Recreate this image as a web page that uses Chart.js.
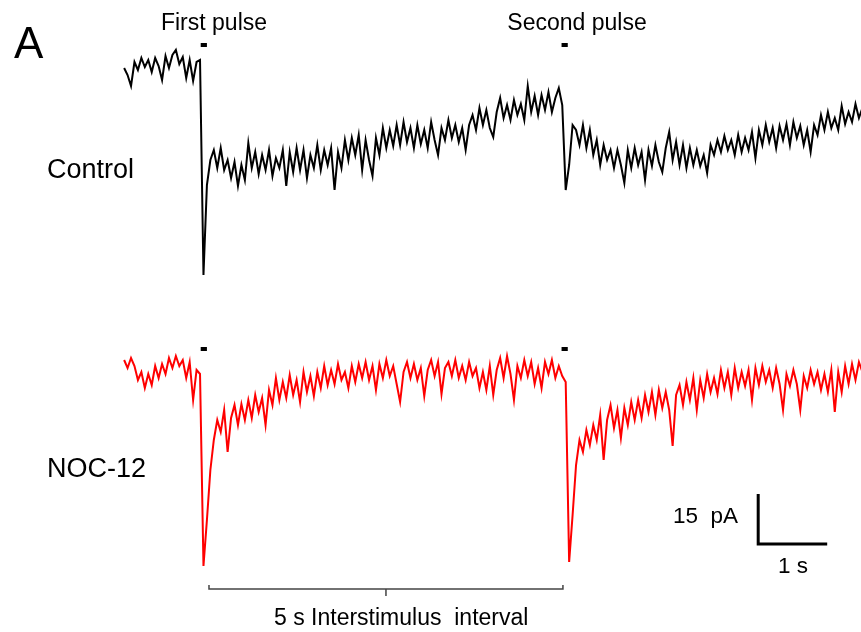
<!DOCTYPE html>
<html>
<head>
<meta charset="utf-8">
<script src="https://cdn.jsdelivr.net/npm/chart.js@4.4.1/dist/chart.umd.min.js"></script>
<style>
html, body { margin:0; padding:0; background:#fff; }
#wrap { width:861px; height:632px; position:relative; }
</style>
</head>
<body>
<div id="wrap"><canvas id="traces"></canvas></div>
<script>
// sampling of both recordings (s), first pulse onset at t = 0
var sampleStart = -1.10;
var sampleStep = 0.05;

// current relative to pre-pulse baseline (pA)
var controlTrace = [
	-0.9,-3.0,-6.3,0.9,-1.5,2.1,-0.6,1.5,-2.1,2.1,
	-0.3,-4.5,2.7,-0.9,3.0,4.5,0.3,2.4,-3.9,1.5,
	-4.8,0.9,1.5,-63.0,-36.0,-28.5,-25.5,-30.9,-24.9,-31.5,
	-28.5,-33.9,-29.1,-36.3,-30.0,-34.5,-23.4,-30.9,-26.1,-32.7,
	-27.0,-31.5,-25.5,-33.3,-27.9,-30.9,-25.5,-36.3,-26.1,-32.1,
	-24.9,-31.5,-25.5,-33.9,-27.0,-30.9,-24.0,-31.5,-25.5,-30.0,
	-24.9,-37.5,-26.1,-30.9,-22.5,-28.5,-21.9,-27.0,-21.0,-31.5,
	-22.5,-28.5,-33.3,-21.9,-27.0,-18.9,-24.9,-19.5,-24.3,-18.0,
	-24.0,-17.1,-23.1,-18.9,-24.9,-18.0,-23.7,-19.5,-24.9,-17.1,
	-22.5,-27.0,-18.9,-22.5,-16.5,-21.9,-18.0,-23.1,-18.9,-25.5,
	-18.0,-15.0,-19.5,-12.9,-18.0,-13.5,-18.9,-21.6,-14.1,-9.9,
	-15.9,-12.0,-16.5,-10.5,-15.0,-11.7,-16.5,-6.3,-14.1,-9.3,
	-15.0,-9.0,-13.5,-8.1,-14.1,-9.9,-6.9,-12.0,-37.5,-30.0,
	-18.0,-19.5,-24.0,-18.0,-24.9,-19.5,-27.0,-22.5,-30.0,-24.0,
	-28.5,-25.5,-30.9,-25.5,-30.0,-35.4,-25.5,-30.9,-24.9,-30.0,
	-26.1,-34.5,-25.5,-30.3,-24.0,-29.1,-32.1,-24.9,-20.1,-28.5,
	-23.1,-30.0,-24.0,-30.9,-24.9,-30.0,-25.5,-30.3,-27.0,-32.4,
	-24.0,-27.0,-22.5,-26.1,-21.3,-25.5,-22.5,-27.0,-21.0,-26.1,
	-21.9,-25.5,-20.1,-27.9,-19.5,-24.0,-18.0,-23.1,-18.9,-24.9,
	-18.3,-22.5,-17.7,-24.0,-17.1,-21.9,-18.3,-24.0,-19.5,-26.1,
	-18.0,-21.0,-15.0,-19.5,-14.1,-18.9,-15.9,-19.5,-12.3,-17.7,
	-14.1,-17.1,-11.7,-15.9,-12.9
];

var nocTrace = [
	2.4,0.0,3.0,0.6,-3.6,-1.2,-6.0,-1.8,-5.1,0.6,
	-3.0,1.2,-1.8,3.0,0.0,3.6,0.6,2.4,-3.0,1.8,
	-9.6,-0.6,-1.8,-59.4,-45.6,-30.6,-21.6,-15.6,-19.2,-12.6,
	-25.2,-15.0,-11.1,-17.1,-10.8,-15.6,-9.6,-15.0,-8.1,-13.2,
	-9.0,-17.1,-6.6,-11.1,-3.0,-9.6,-4.2,-9.0,-2.1,-8.1,
	-3.6,-10.2,-1.2,-7.2,-2.4,-8.4,-1.2,-6.0,0.6,-5.1,
	-0.6,-4.8,1.2,-3.6,-1.2,-6.0,0.6,-4.2,1.2,-3.0,
	1.8,-3.6,0.6,-6.6,1.2,-3.0,2.4,-2.4,0.6,-4.8,
	-10.2,-1.2,1.8,-3.0,1.2,-3.6,0.0,-8.4,-0.6,2.4,
	-2.4,1.8,-7.8,0.0,1.8,-2.4,2.4,-3.0,0.6,-3.6,
	1.8,-2.4,0.0,-6.0,-1.2,-6.6,0.6,-8.1,-0.6,3.0,
	-3.0,3.6,-1.8,-9.6,0.6,-3.0,2.4,-2.4,1.8,-4.8,
	0.0,-6.0,1.8,-1.8,2.4,-3.0,0.6,-2.4,-4.2,-58.2,
	-44.1,-29.1,-21.6,-25.2,-18.6,-23.1,-17.1,-21.6,-14.1,-27.6,
	-15.6,-11.1,-18.0,-12.6,-21.0,-12.0,-17.1,-10.2,-15.6,-9.6,
	-15.0,-8.1,-13.2,-7.2,-14.1,-6.6,-12.0,-7.2,-12.6,-23.4,
	-8.1,-5.1,-11.1,-4.2,-9.6,-3.0,-12.6,-3.6,-9.0,-1.8,
	-7.2,-3.0,-7.8,-0.6,-6.0,-1.2,-8.1,0.0,-6.0,-1.2,
	-5.4,-0.6,-9.6,0.0,-5.1,0.6,-4.2,-0.6,-6.0,0.0,
	-4.8,-12.6,-1.8,-5.4,-0.6,-4.8,-12.6,-2.4,-6.0,-0.6,
	-4.8,-1.2,-6.6,-1.8,-7.2,-0.6,-13.2,-1.2,-7.2,0.6,
	-4.8,1.2,-3.6,1.8,-1.2
];

// pulse onsets (s) and pulse length
var pulseStarts = [0.01, 5.24];
var pulseLength = 0.09;

// scale bar and interstimulus bracket
var scaleBarTime = 1;
var scaleBarCurrent = 15;
var bracketFrom = 0.13;
var bracketTo = 5.26;

function toPoints(values){
	var pts = [];
	for(var i = 0; i < values.length; i++){
		pts.push({x: sampleStart + i * sampleStep, y: values[i]});
	}
	return pts;
}

function pulseMarks(level){
	var pts = [];
	for(var i = 0; i < pulseStarts.length; i++){
		pts.push({x: pulseStarts[i], y: level});
		pts.push({x: pulseStarts[i] + pulseLength, y: level});
		pts.push({x: pulseStarts[i] + pulseLength, y: null});
	}
	return pts;
}

function scaleBar(){
	var x0 = 8.09, y0 = -52.8;
	return [
		{x: x0, y: y0 + scaleBarCurrent},
		{x: x0, y: y0},
		{x: x0 + scaleBarTime, y: y0}
	];
}

function bracket(){
	var y = -66.3, mid = (bracketFrom + bracketTo) / 2;
	return [
		{x: bracketFrom, y: y + 1.2},
		{x: bracketFrom, y: y},
		{x: mid, y: y},
		{x: mid, y: y - 2.1},
		{x: mid, y: y},
		{x: bracketTo, y: y},
		{x: bracketTo, y: y + 1.2}
	];
}

var labelsPlugin = {
	id: 'labels',
	afterDraw: function(chart){
		var ctx = chart.ctx;
		ctx.save();
		ctx.fillStyle = '#000';
		ctx.textBaseline = 'alphabetic';
		ctx.textAlign = 'left';
		ctx.font = '44px "Liberation Sans", Arial, sans-serif';
		ctx.fillText('A', 14, 58);
		ctx.font = '23px "Liberation Sans", Arial, sans-serif';
		ctx.textAlign = 'center';
		ctx.fillText('First pulse', 214, 30);
		ctx.fillText('Second pulse', 577, 30);
		ctx.textAlign = 'left';
		ctx.fillText('5 s Interstimulus  interval', 274, 625);
		ctx.font = '27px "Liberation Sans", Arial, sans-serif';
		ctx.fillText('Control', 47, 178);
		ctx.fillText('NOC-12', 47, 477);
		ctx.font = '22.5px "Liberation Sans", Arial, sans-serif';
		ctx.fillText('15  pA', 673, 523);
		ctx.fillText('1 s', 778, 573);
		ctx.restore();
	}
};

var ctx = document.getElementById('traces').getContext('2d');
var myChart = new Chart(ctx, {
	type: 'line',
	data: {
		datasets: [
			{label: 'Control', data: toPoints(controlTrace), yAxisID: 'yC', borderColor: '#000000', borderWidth: 2},
			{label: 'NOC-12', data: toPoints(nocTrace), yAxisID: 'yN', borderColor: '#ff0000', borderWidth: 2},
			{label: 'pulse C', data: pulseMarks(6.0), yAxisID: 'yC', borderColor: '#000000', borderWidth: 4, borderCapStyle: 'butt'},
			{label: 'pulse N', data: pulseMarks(5.7), yAxisID: 'yN', borderColor: '#000000', borderWidth: 4, borderCapStyle: 'butt'},
			{label: 'scale', data: scaleBar(), yAxisID: 'yN', borderColor: '#000000', borderWidth: 3, borderJoinStyle: 'miter'},
			{label: 'bracket', data: bracket(), yAxisID: 'yN', borderColor: '#444444', borderWidth: 1.5, borderJoinStyle: 'miter'}
		]
	},
	options: {
		responsive: true,
		maintainAspectRatio: false,
		animation: false,
		layout: {padding: 0},
		elements: {point: {radius: 0, hoverRadius: 0}, line: {tension: 0}},
		datasets: {line: {spanGaps: false, clip: false}},
		plugins: {legend: {display: false}, tooltip: {enabled: false}},
		events: [],
		scales: {
			x: {type: 'linear', display: false, min: -2.899, max: 9.580},
			yC: {type: 'linear', display: false, min: -170.1, max: 19.5},
			yN: {type: 'linear', display: false, min: -79.2, max: 110.4}
		}
	},
	plugins: [labelsPlugin]
});
</script>
</body>
</html>
